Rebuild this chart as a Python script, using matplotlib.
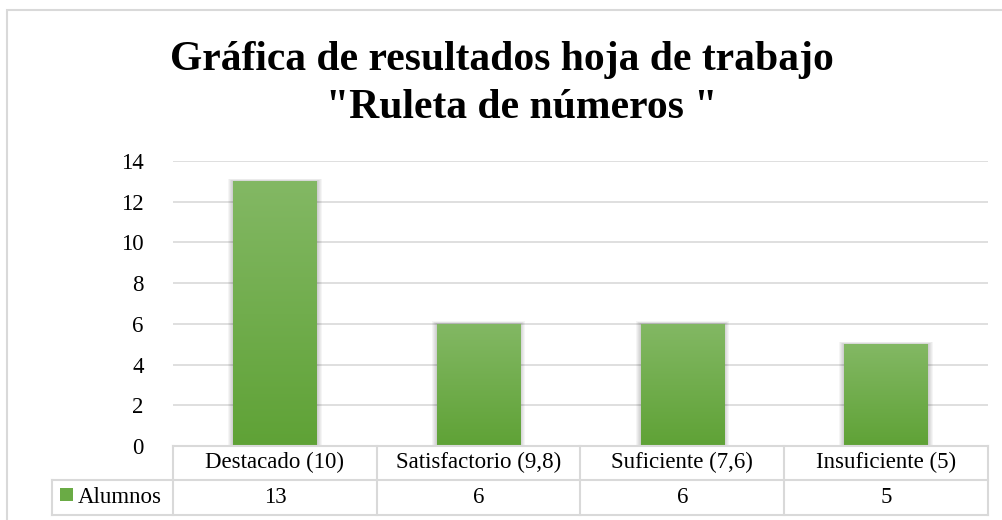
import matplotlib
matplotlib.use("Agg")
import matplotlib.pyplot as plt
import numpy as np
from matplotlib.colors import LinearSegmentedColormap
from matplotlib.patches import Rectangle
from matplotlib.transforms import blended_transform_factory

# ---- data ----
categories = ["Destacado (10)", "Satisfactorio (9,8)", "Suficiente (7,6)", "Insuficiente (5)"]
series_name = "Alumnos"
values = [13, 6, 6, 5]
yticks = [0, 2, 4, 6, 8, 10, 12, 14]
title_lines = ["Gráfica de resultados hoja de trabajo", "\"Ruleta de números \""]

plt.rcParams['font.family'] = ['Liberation Serif', 'DejaVu Serif']

W, H = 1003, 520
fig = plt.figure(figsize=(W / 100, H / 100), dpi=100)

# plot area in pixels
L, R, T, B = 173, 988, 161, 446
ax = fig.add_axes([L / W, (H - B) / H, (R - L) / W, (B - T) / H])

grid_c = '#D9D9D9'
top_c = '#83B864'
bot_c = '#5FA236'
cmap = LinearSegmentedColormap.from_list('g', [bot_c, top_c])
fs = 16.5

x = np.arange(len(categories))
bw = 0.41
bars = ax.bar(x, values, width=bw, color=bot_c, zorder=3)
px_x = 1.0 / ((R - L) / 4)      # data units per pixel in x
px_y = 14.0 / (B - T)           # data units per pixel in y
grad = np.linspace(0, 1, 256).reshape(-1, 1)
for b in bars:
    x0, w, h = b.get_x(), b.get_width(), b.get_height()
    # soft shadow
    for k in range(1, 6):
        ax.add_patch(Rectangle((x0 - k * px_x, 0), w + 2 * k * px_x, h + k * px_y * 0.5,
                               facecolor='black', alpha=0.04, edgecolor='none', zorder=2))
    im = ax.imshow(grad, extent=[x0, x0 + w, 0, h], origin='lower', aspect='auto',
                   cmap=cmap, zorder=4)
    im.set_clip_path(b)

ax.set_xlim(-0.5, 3.5)
ax.set_ylim(0, 14)
ax.set_yticks(yticks)
ax.set_yticklabels([str(t) for t in yticks], fontsize=fs)
ax.tick_params(axis='y', length=0, pad=21)
ax.set_xticks([])
for s in ax.spines.values():
    s.set_visible(False)
ax.yaxis.grid(True, color=grid_c, linewidth=1.2, zorder=0)
ax.set_axisbelow(True)

# ---- data table ----
ah = B - T
def ay(py):
    return (B - py) / ah  # pixel y -> axes fraction

r0, r1, r2 = 446, 479.5, 515
tr = blended_transform_factory(ax.transData, ax.transAxes)
lw = 1.5
leg_left = (52 - L) / (R - L)
ax.plot([-0.5, 3.5], [ay(r0), ay(r0)], transform=tr, color=grid_c, lw=lw, clip_on=False, zorder=5)
ax.plot([leg_left, 1], [ay(r1), ay(r1)], transform=ax.transAxes, color=grid_c, lw=lw, clip_on=False)
ax.plot([leg_left, 1], [ay(r2), ay(r2)], transform=ax.transAxes, color=grid_c, lw=lw, clip_on=False)
for xv in np.arange(-0.5, 4.0, 1.0):
    ax.plot([xv, xv], [ay(r0), ay(r2)], transform=tr, color=grid_c, lw=lw, clip_on=False)
ax.plot([leg_left, leg_left], [ay(r1), ay(r2)], transform=ax.transAxes, color=grid_c, lw=lw, clip_on=False)

for i, (c, v) in enumerate(zip(categories, values)):
    ax.text(i, ay((r0 + r1) / 2), c, transform=tr, ha='center', va='center', fontsize=fs)
    ax.text(i, ay((r1 + r2) / 2), str(v), transform=tr, ha='center', va='center', fontsize=fs)

# legend key in table
ax.add_patch(Rectangle(((60 - L) / (R - L), ay(501)), 13 / (R - L), 13 / ah,
                       transform=ax.transAxes, facecolor='#6AAB45', edgecolor='none', clip_on=False))
ax.text((78 - L) / (R - L), ay((r1 + r2) / 2), series_name, transform=ax.transAxes,
        ha='left', va='center', fontsize=fs)

# title (two lines, placed separately to match line spacing)
t1 = fig.text(0.5, (H - 70) / H, title_lines[0], ha='center', va='baseline', fontsize=30, fontweight='bold')
t2 = fig.text(0.5, (H - 118) / H, title_lines[1], ha='left', va='baseline', fontsize=30, fontweight='bold')
fig.canvas.draw()
bb = t2.get_window_extent()
t2.set_x((522 - bb.width / 2) / W)

# outer chart border (right/bottom edges are outside the picture)
fig.add_artist(Rectangle((7 / W, -0.1), 1.2, (H - 10) / H + 0.1, transform=fig.transFigure,
                         facecolor='none', edgecolor=grid_c, lw=1.5))

fig.savefig('out.png', dpi=100)
